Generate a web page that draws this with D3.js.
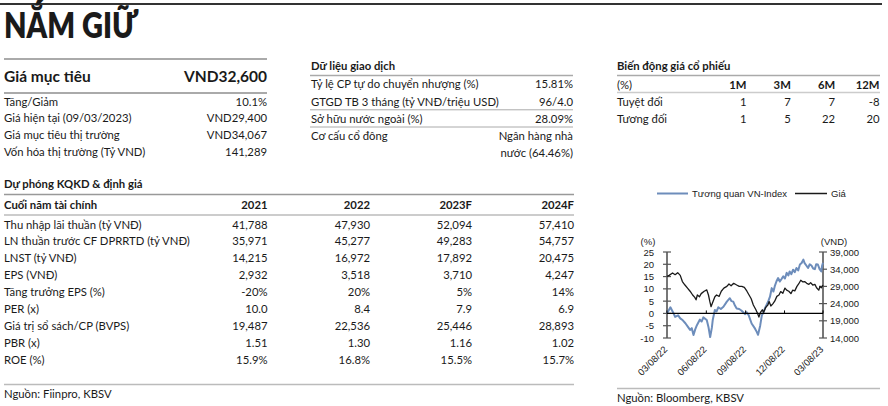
<!DOCTYPE html>
<html><head><meta charset="utf-8">
<script src="https://cdn.jsdelivr.net/npm/d3@7"></script>
<style>
body{margin:0;background:#fff;}
svg{display:block;}
text{font-family:Lato,"Open Sans",sans-serif;fill:#1a1a1a;}
.ch{font-family:"Liberation Sans",Arial,sans-serif;}
</style></head>
<body>
<svg id="c" width="888" height="406"></svg>
<script>
// ---------------- DATA ----------------
const title = "NẮM GIỮ";
const targetLabel = "Giá mục tiêu";
const targetValue = "VND32,600";
const summaryLabels = ["Tăng/Giảm","Giá hiện tại (09/03/2023)","Giá mục tiêu thị trường","Vốn hóa thị trường (Tỷ VND)"];
const summaryValues = ["10.1%","VND29,400","VND34,067","141,289"];

const tradingTitle = "Dữ liệu giao dịch";
const tradingLabels = ["Tỷ lệ CP tự do chuyển nhượng (%)","GTGD TB 3 tháng (tỷ VNĐ/triệu USD)","Sở hữu nước ngoài (%)","Cơ cấu cổ đông"];
const tradingValues = ["15.81%","96/4.0","28.09%","Ngân hàng nhà"];
const tradingValueExtra = "nước (64.46%)";

const perfTitle = "Biến động giá cổ phiếu";
const perfHeaders = ["(%)","1M","3M","6M","12M"];
const perfRowLabels = ["Tuyệt đối","Tương đối"];
const perfAbsolute = [1,7,7,-8];
const perfRelative = [1,5,22,20];

const forecastTitle = "Dự phóng KQKD & định giá";
const forecastHeader = "Cuối năm tài chính";
const forecastYears = ["2021","2022","2023F","2024F"];
const forecastRows = ["Thu nhập lãi thuần (tỷ VNĐ)","LN thuần trước CF DPRRTD (tỷ VNĐ)","LNST (tỷ VNĐ)","EPS (VNĐ)","Tăng trưởng EPS (%)","PER (x)","Giá trị sổ sách/CP (BVPS)","PBR (x)","ROE (%)"];
const fy2021 = ["41,788","35,971","14,215","2,932","-20%","10.0","19,487","1.51","15.9%"];
const fy2022 = ["47,930","45,277","16,972","3,518","20%","8.4","22,536","1.30","16.8%"];
const fy2023F = ["52,094","49,283","17,892","3,710","5%","7.9","25,446","1.16","15.5%"];
const fy2024F = ["57,410","54,757","20,475","4,247","14%","6.9","28,893","1.02","15.7%"];
const sourceLeft = "Nguồn: Fiinpro, KBSV";
const sourceRight = "Nguồn: Bloomberg, KBSV";

const legendLabels = ["Tương quan VN-Index","Giá"];
const leftAxisTitle = "(%)";
const rightAxisTitle = "(VND)";
const leftTicks = [-10,-5,0,5,10,15,20,25];
const rightTicks = [14000,19000,24000,29000,34000,39000];
const xTickDates = ["2022-03-08","2022-06-08","2022-09-08","2022-12-08","2023-03-08"];
const xTickLabels = ["03/08/22","06/08/22","09/08/22","12/08/22","03/08/23"];

const priceDates = ["2022-03-08","2022-03-13","2022-03-21","2022-03-27","2022-04-02","2022-04-08","2022-04-13","2022-04-19","2022-04-25","2022-05-01","2022-05-07","2022-05-12","2022-05-15","2022-05-18","2022-05-23","2022-05-27","2022-06-03","2022-06-09","2022-06-13","2022-06-16","2022-06-19","2022-06-23","2022-06-28","2022-07-02","2022-07-08","2022-07-13","2022-07-19","2022-07-26","2022-07-31","2022-08-05","2022-08-11","2022-08-18","2022-08-24","2022-08-30","2022-09-05","2022-09-11","2022-09-16","2022-09-21","2022-09-26","2022-10-02","2022-10-06","2022-10-09","2022-10-13","2022-10-17","2022-10-20","2022-10-25","2022-10-30","2022-11-02","2022-11-06","2022-11-11","2022-11-15","2022-11-20","2022-11-25","2022-11-29","2022-12-04","2022-12-09","2022-12-13","2022-12-18","2022-12-23","2022-12-27","2023-01-01","2023-01-06","2023-01-10","2023-01-15","2023-01-20","2023-01-24","2023-01-29","2023-02-03","2023-02-07","2023-02-12","2023-02-17","2023-02-21","2023-02-26","2023-03-01","2023-03-04","2023-03-08"];
const priceValues = [31900,32200,32900,32400,33000,32200,30400,29400,28500,27600,26500,25800,25100,26500,26000,26900,27600,28000,26500,24700,23100,24400,26000,26500,26100,27600,28500,29000,29700,29200,29900,29400,29000,29000,28700,27600,26500,25400,23600,22200,21100,20100,21500,22200,21500,22900,23600,24600,23300,24000,24700,26100,26500,27500,27000,28500,27900,27600,26900,27900,27700,29000,29700,30800,30300,30400,29900,29600,30100,29400,29600,28600,27900,29000,28600,29400];

const relDates = ["2022-03-08","2022-03-16","2022-03-22","2022-03-27","2022-04-03","2022-04-08","2022-04-14","2022-04-20","2022-04-26","2022-05-01","2022-05-05","2022-05-09","2022-05-13","2022-05-17","2022-05-24","2022-05-28","2022-06-01","2022-06-09","2022-06-13","2022-06-17","2022-06-21","2022-06-23","2022-06-28","2022-07-02","2022-07-06","2022-07-12","2022-07-18","2022-07-26","2022-08-02","2022-08-06","2022-08-10","2022-08-14","2022-08-18","2022-08-24","2022-08-29","2022-09-07","2022-09-10","2022-09-15","2022-09-22","2022-09-30","2022-10-04","2022-10-07","2022-10-12","2022-10-16","2022-10-20","2022-10-23","2022-10-27","2022-10-31","2022-11-04","2022-11-08","2022-11-12","2022-11-15","2022-11-19","2022-11-23","2022-11-27","2022-12-01","2022-12-05","2022-12-09","2022-12-13","2022-12-17","2022-12-20","2022-12-24","2022-12-28","2023-01-01","2023-01-05","2023-01-09","2023-01-13","2023-01-17","2023-01-21","2023-01-24","2023-01-28","2023-02-01","2023-02-05","2023-02-09","2023-02-13","2023-02-17","2023-02-20","2023-02-24","2023-02-28","2023-03-04","2023-03-06","2023-03-08"];
const relValues = [0,2.5,0.5,-1.4,-0.8,-2,-2.8,-4,-5.5,-6.7,-6,-8.8,-6.5,-4.8,-2.5,-3.3,-1.6,-2.7,-5.5,-9.6,-5.8,-2.7,1.4,0.8,2.5,1.8,2.7,4.8,6.2,5,4.8,3.2,2,1.8,1.2,-0.3,0.5,-0.7,-4.1,-6.2,-7.5,-8.7,-5,-0.7,0.5,2,3.5,5,6.8,10.3,8.9,11,13,14.4,13,14,15.1,14.2,16.5,15.5,17.1,16,17.8,16.8,18.5,17.5,19.9,20.5,21.9,20.5,19.5,18.5,20,19.5,18.3,18,20,19.9,18,17.1,19.5,20.6];

// ---------------- DRAW ----------------
const svg = d3.select("#c");
const BLUE = "#6d8dbb", DARK = "#1a1a1a";
const FS = 11.3;

function hline(x1,x2,y,color,w){
  svg.append("line").attr("x1",x1).attr("x2",x2).attr("y1",y).attr("y2",y)
    .attr("stroke",color).attr("stroke-width",w);
}
function txt(x,y,s,opt={}){
  const t = svg.append("text").attr("x",x).attr("y",y).attr("dominant-baseline","central")
    .attr("font-size",opt.size||FS).attr("text-anchor",opt.anchor||"start").text(s);
  if(opt.weight) t.attr("font-weight",opt.weight);
  if(opt.cls) t.attr("class",opt.cls);
  return t;
}

// top rule + title
hline(0,882,4,"#333",2);
svg.append("text").attr("x",4).attr("y",38).attr("font-size",36).attr("font-weight",800)
  .attr("textLength",134).attr("lengthAdjust","spacingAndGlyphs").text(title);

// left summary block
hline(4,267,59,"#aaa",2);
txt(4,76,targetLabel,{size:15.5,weight:700});
txt(267,76,targetValue,{size:15.5,weight:700,anchor:"end"});
hline(4,267,93,"#aaa",2);
summaryLabels.forEach((l,i)=>{
  const y = 101 + i*16.9;
  txt(4,y,l);
  txt(267,y,summaryValues[i],{anchor:"end"});
});

// trading block
txt(311,65.5,tradingTitle,{weight:700});
hline(310,573,75.5,"#aaa",1.5);
const tradY = [83.5,101,118,135];
tradingLabels.forEach((l,i)=>{
  txt(311,tradY[i],l);
  txt(573,tradY[i],tradingValues[i],{anchor:"end"});
});
txt(573,152.5,tradingValueExtra,{anchor:"end"});
hline(310,573,109.8,"#aaa",1);
hline(310,573,127,"#aaa",1);

// performance block
txt(617,65.5,perfTitle,{weight:700});
hline(617,880,75.5,"#aaa",1.5);
const perfX = d3.scalePoint().domain(perfHeaders.slice(1)).range([746.5,879.5]);
txt(617,84,perfHeaders[0]);
perfHeaders.slice(1).forEach(h=>txt(perfX(h),84,h,{anchor:"end",weight:700}));
hline(617,880,92.5,"#ccc",1.5);
[perfAbsolute,perfRelative].forEach((row,ri)=>{
  const y = 101 + ri*17;
  txt(617,y,perfRowLabels[ri]);
  row.forEach((v,ci)=>txt(perfX(perfHeaders[ci+1]),y,String(v),{anchor:"end"}));
});

// forecast table
txt(4,183.5,forecastTitle,{weight:700});
hline(4,574,194.5,"#999",1.5);
const colX = [267.5,370,472,574];
txt(4,204,forecastHeader,{weight:700});
forecastYears.forEach((y,i)=>txt(colX[i],204,y,{anchor:"end",weight:700}));
hline(4,574,215,"#ccc",2);
const cols = [fy2021,fy2022,fy2023F,fy2024F];
forecastRows.forEach((r,i)=>{
  const y = 224 + i*16.9;
  txt(4,y,r);
  cols.forEach((c,ci)=>txt(colX[ci],y,c[i],{anchor:"end"}));
});
hline(4,574,384.5,"#bbb",1.5);
txt(4,393,sourceLeft);

// ---------------- CHART ----------------
const parse = d3.timeParse("%Y-%m-%d");
const x = d3.scaleTime().domain([parse("2022-03-08"),parse("2023-03-08")]).range([667,823]);
const yL = d3.scaleLinear().domain([-10,25]).range([338,252]);
const yR = d3.scaleLinear().domain([14000,39000]).range([338,252]);

// legend
hline(657,688,193.5,BLUE,2);
txt(692,193.5,legendLabels[0],{size:9.5,cls:"ch"});
hline(795,827,193.5,DARK,1.5);
txt(831,193.5,legendLabels[1],{size:9.5,cls:"ch"});

txt(648,241,leftAxisTitle,{size:9.5,cls:"ch",anchor:"middle"});
txt(834,241,rightAxisTitle,{size:9.5,cls:"ch",anchor:"middle"});

// axes
const axG = svg.append("g");
axG.append("line").attr("x1",x.range()[0]).attr("x2",x.range()[0]).attr("y1",yL(-10)).attr("y2",yL(25)).attr("stroke","#777").attr("stroke-width",2);
axG.append("line").attr("x1",x.range()[1]).attr("x2",x.range()[1]).attr("y1",yR(14000)).attr("y2",yR(39000)).attr("stroke","#777").attr("stroke-width",2);
leftTicks.forEach(t=>{
  axG.append("line").attr("x1",x.range()[0]-4).attr("x2",x.range()[0]+4).attr("y1",yL(t)).attr("y2",yL(t)).attr("stroke","#555").attr("stroke-width",1.2);
  txt(x.range()[0]-13,yL(t),String(t),{size:9.5,cls:"ch",anchor:"end"});
});
rightTicks.forEach(t=>{
  axG.append("line").attr("x1",x.range()[1]-4).attr("x2",x.range()[1]+4).attr("y1",yR(t)).attr("y2",yR(t)).attr("stroke","#555").attr("stroke-width",1.2);
  txt(x.range()[1]+7,yR(t),d3.format(",")(t),{size:9.5,cls:"ch"});
});

// lines
const lineL = d3.line().x(d=>x(d[0])).y(d=>yL(d[1]));
const lineR = d3.line().x(d=>x(d[0])).y(d=>yR(d[1]));
svg.append("path").datum(relDates.map((d,i)=>[parse(d),relValues[i]]))
  .attr("d",lineL).attr("fill","none").attr("stroke",BLUE).attr("stroke-width",2).attr("stroke-linejoin","round");
svg.append("path").datum(priceDates.map((d,i)=>[parse(d),priceValues[i]]))
  .attr("d",lineR).attr("fill","none").attr("stroke",DARK).attr("stroke-width",1.3).attr("stroke-linejoin","round");

// zero line x-axis
hline(x.range()[0],x.range()[1],yL(0),"#000",1.2);
xTickDates.forEach((d,i)=>{
  const xx = x(parse(d));
  svg.append("line").attr("x1",xx).attr("x2",xx).attr("y1",yL(0)).attr("y2",yL(0)-3).attr("stroke","#000").attr("stroke-width",1);
  svg.append("text").attr("class","ch").attr("font-size",9.5).attr("text-anchor","end")
    .attr("transform",`translate(${xx+1},${350}) rotate(-45)`).text(xTickLabels[i]);
});

hline(617,880,388.5,"#bbb",1.5);
txt(617,397,sourceRight);
</script>
</body></html>
